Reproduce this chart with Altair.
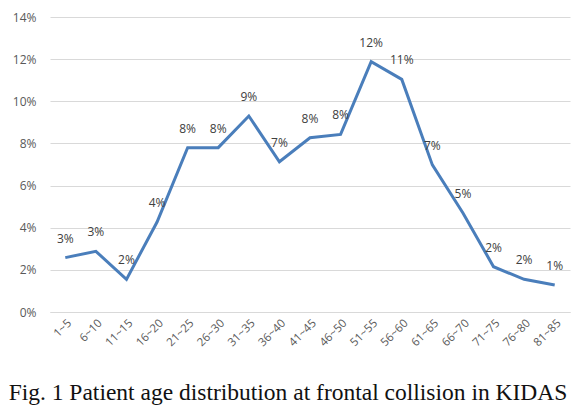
import altair as alt
import pandas as pd

ages = ["1~5", "6~10", "11~15", "16~20", "21~25", "26~30", "31~35", "36~40",
        "41~45", "46~50", "51~55", "56~60", "61~65", "66~70", "71~75", "76~80", "81~85"]
share = [2.58, 2.88, 1.55, 4.27, 7.8, 7.8, 9.3, 7.13,
         8.27, 8.43, 11.88, 11.04, 6.98, 4.7, 2.15, 1.55, 1.28]
labels = ["3%", "3%", "2%", "4%", "8%", "8%", "9%", "7%",
          "8%", "8%", "12%", "11%", "7%", "5%", "2%", "2%", "1%"]

df = pd.DataFrame({"age": ages, "share": share, "label": labels})

x = alt.X("age:N", sort=ages, title=None,
          scale=alt.Scale(type="point", padding=0.5),
          axis=alt.Axis(labelAngle=-45, labelColor="#595959", labelFontSize=11.5,
                        labelFont="Open Sans", ticks=False, domain=True,
                        domainColor="#d9d9d9", labelPadding=5, grid=False))
y = alt.Y("share:Q", title=None,
          scale=alt.Scale(domain=[0, 14]),
          axis=alt.Axis(values=[0, 2, 4, 6, 8, 10, 12, 14], labelExpr="datum.value + '%'",
                        labelColor="#595959", labelFontSize=12, labelFont="Open Sans",
                        ticks=False, domain=False, gridColor="#d9d9d9", labelPadding=14))

line = alt.Chart(df).mark_line(color="#4a7ebb", strokeWidth=3).encode(x=x, y=y)
text = alt.Chart(df).mark_text(dy=-19, fontSize=12, font="Open Sans", color="#404040").encode(
    x=alt.X("age:N", sort=ages), y="share:Q", text="label:N")

chart = (line + text).properties(
    width=520, height=295,
    autosize=alt.AutoSizeParams(type="none"),
    padding={"left": 42, "top": 9, "right": 5, "bottom": 93},
    title=alt.TitleParams("Fig. 1 Patient age distribution at frontal collision in KIDAS",
                          orient="bottom", anchor="middle", font="Liberation Serif",
                          fontSize=23.5, fontWeight="normal", color="#111111",
                          offset=33, dx=-22),
).configure_view(stroke=None)

chart.save("out.html", embed_options={"renderer": "svg", "actions": False})
